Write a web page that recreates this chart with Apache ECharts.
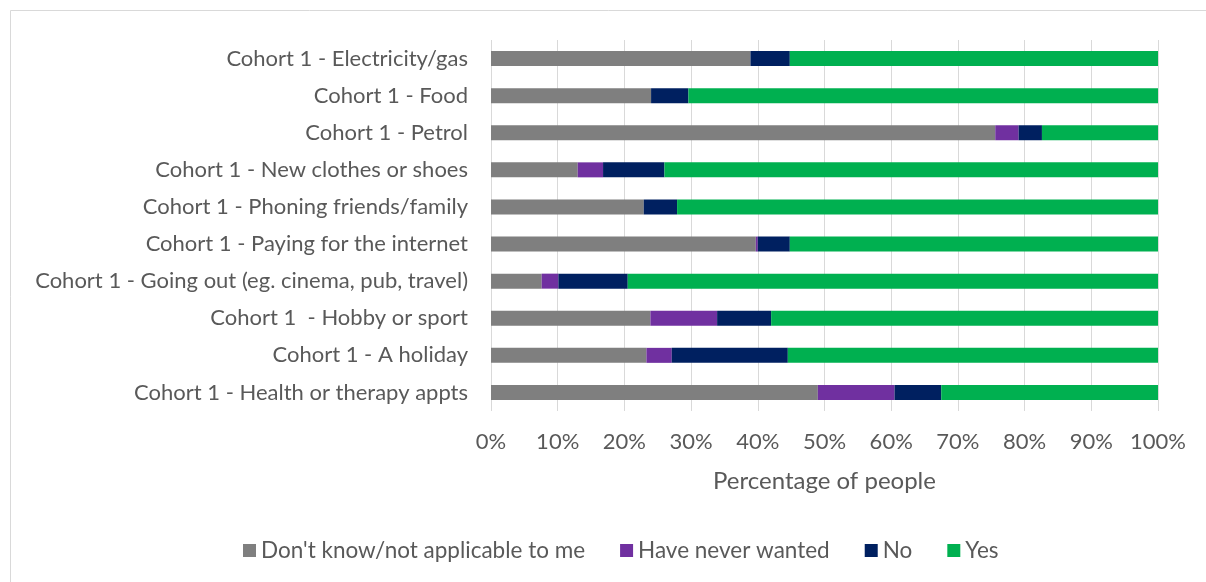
<!DOCTYPE html>
<html>
<head>
<meta charset="utf-8">
<script src="https://cdn.jsdelivr.net/npm/echarts@6/dist/echarts.min.js"></script>
<style>html,body{margin:0;padding:0;background:#fff;}#c{width:1206px;height:582px;}</style>
</head>
<body>
<div id="c"></div>
<script>
const categories = [
  "Cohort 1 - Electricity/gas",
  "Cohort 1 - Food",
  "Cohort 1 - Petrol",
  "Cohort 1 - New clothes or shoes",
  "Cohort 1 - Phoning friends/family",
  "Cohort 1 - Paying for the internet",
  "Cohort 1 - Going out (eg. cinema, pub, travel)",
  "Cohort 1  - Hobby or sport",
  "Cohort 1 - A holiday",
  "Cohort 1 - Health or therapy appts"
];
const dontKnow    = [38.9, 24.0, 75.6, 13.0, 22.9, 39.7, 7.6, 23.9, 23.3, 49.0];
const neverWanted = [0,    0,    3.5,  3.8,  0,    0.3,  2.5, 10.0, 3.8,  11.5];
const no          = [5.9,  5.6,  3.5,  9.2,  5.0,  4.8,  10.4, 8.1, 17.4, 7.0];
const yes         = [55.2, 70.4, 17.4, 74.0, 72.1, 55.2, 79.5, 58.0, 55.5, 32.5];
const seriesNames = ["Don't know/not applicable to me", "Have never wanted", "No", "Yes"];
const seriesColors = ["#7f7f7f", "#7030a0", "#002060", "#00b050"];
const xTicks = {min: 0, max: 100, interval: 10};

const FONT = "Lato";
const TXT = "#595959";
const chart = echarts.init(document.getElementById('c'), null, {renderer: 'canvas'});
const dataSets = [dontKnow, neverWanted, no, yes];
chart.setOption({
  animation: false,
  backgroundColor: '#ffffff',
  textStyle: {fontFamily: FONT},
  graphic: [{
    type: 'rect', shape: {x: 10.5, y: 10.5, width: 1220, height: 600},
    style: {fill: 'none', stroke: '#d9d9d9', lineWidth: 1}, silent: true, z: -1
  }],
  grid: {left: 491, right: 48, top: 40, bottom: 171},
  legend: {
    data: seriesNames, bottom: 15, left: 238, icon: 'rect',
    itemWidth: 13, itemHeight: 13, itemGap: 35,
    textStyle: {fontFamily: FONT, fontSize: 22.5, color: TXT}
  },
  xAxis: {
    type: 'value', min: xTicks.min, max: xTicks.max, interval: xTicks.interval,
    name: 'Percentage of people', nameLocation: 'middle', nameGap: 58,
    nameTextStyle: {fontFamily: FONT, fontSize: 24, color: TXT},
    axisLine: {show: false}, axisTick: {show: false},
    axisLabel: {formatter: '{value}%', fontFamily: FONT, fontSize: 22, color: TXT, margin: 20},
    splitLine: {show: true, lineStyle: {color: '#d9d9d9', width: 1}}
  },
  yAxis: {
    type: 'category', data: categories, inverse: true,
    axisLine: {show: false}, axisTick: {show: false},
    axisLabel: {fontFamily: FONT, fontSize: 22, color: TXT, margin: 23}
  },
  series: seriesNames.map((n, i) => ({
    name: n, type: 'bar', stack: 'total', barWidth: 15,
    itemStyle: {color: seriesColors[i]},
    data: dataSets[i]
  }))
});
</script>
</body>
</html>
